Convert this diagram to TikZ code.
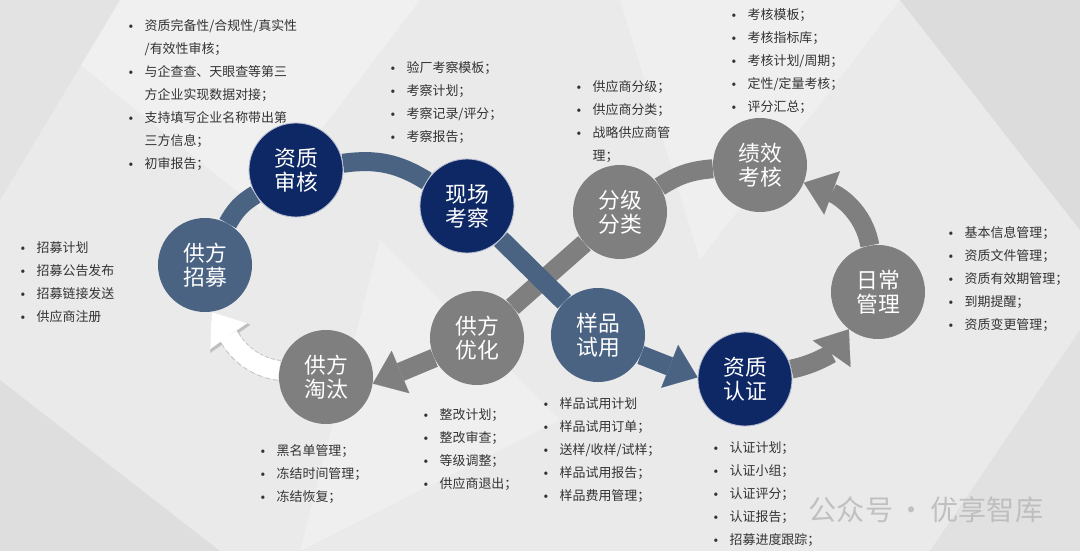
\documentclass[tikz,border=0pt]{standalone}
\usepackage{fontspec}
\setmainfont{Noto Sans CJK SC}
\usepackage{xcolor}
\usetikzlibrary{arrows.meta,backgrounds}
\definecolor{navyblue}{HTML}{0E2866}
\definecolor{slateblue}{HTML}{4A6383}
\definecolor{midgray}{HTML}{7F7F7F}
\definecolor{bggray}{HTML}{EAEAEA}
\definecolor{textgray}{HTML}{333333}
\newcommand{\blist}[1]{{\fontsize{9.2pt}{16.4pt}\selectfont\begin{tabular}[t]{@{}l@{\hspace{8pt}}l@{}}#1\end{tabular}}}
\newcommand{\bu}{\raisebox{1.5pt}{\tiny$\bullet$}}

\begin{document}
\begin{tikzpicture}[x=0.025cm,y=-0.025cm,
  circ/.style={circle,minimum size=2.35cm,inner sep=0pt,align=center,text=white,font=\fontsize{15.5pt}{17pt}\selectfont},
  navycirc/.style={circ,fill=navyblue,draw=white!70!navyblue,line width=0.6pt},
  slatecirc/.style={circ,fill=slateblue},
  graycirc/.style={circ,fill=midgray},
  band/.style={line width=0.475cm},
  bandblue/.style={band,draw=slateblue},
  bandgray/.style={band,draw=midgray},
  bigtip/.style={-{Triangle[length=0.75cm,width=1.15cm,line width=0.1pt]}},
  info/.style={anchor=base west,inner sep=0pt,text=textgray}
]
\useasboundingbox (0,0) rectangle (1080,551);
\node[navycirc] (zs) at (296,170) {资质\\审核};
\node[navycirc] (xc) at (467,206) {现场\\考察};
\node[slatecirc] (zm) at (205,265) {供方\\招募};
\node[graycirc] (tt) at (326,377) {供方\\淘汰};
\node[graycirc] (yh) at (477,338) {供方\\优化};
\node[graycirc] (fj) at (620,212) {分级\\分类};
\node[graycirc] (jx) at (760,165) {绩效\\考核};
\node[graycirc] (rc) at (878,292) {日常\\管理};
\node[slatecirc] (yp) at (598,335) {样品\\试用};
\node[navycirc] (rz) at (745,379) {资质\\认证};

\begin{scope}[on background layer]
\fill[bggray] (0,0) rectangle (1080,551);
\fill[white!30!bggray] (0,0) -- (420,0) -- (260,210) -- cycle;
\fill[white!25!bggray] (620,0) -- (900,0) -- (700,260) -- cycle;
\fill[black!6!bggray] (900,0) -- (1080,0) -- (1080,230) -- cycle;
\fill[black!5!bggray] (0,380) -- (220,551) -- (0,551) -- cycle;
\fill[white!25!bggray] (380,240) -- (560,420) -- (300,551) -- cycle;
\fill[black!4!bggray] (1080,330) -- (1080,551) -- (930,551) -- cycle;
\fill[black!3!bggray] (0,0) -- (120,0) -- (0,200) -- cycle;
% outer loop, grey part
\draw[bandgray,bigtip] (rz.12) to[out=12,in=-125] (rc.-128);
\draw[bandgray,bigtip] (rc.100) to[out=100,in=-20] (jx.-22);
\draw[bandgray] (fj) to[bend left=14] (jx);
\draw[bandgray] (fj) -- (yh);
\draw[bandgray,bigtip] (yh.-155) -- (tt.-8);
% blue part on top
\draw[bandblue] (zm) to[bend left=15] (zs);
\draw[bandblue] (zs) to[bend left=20] (xc);
\draw[bandblue] (xc) -- (yp);
\draw[bandblue,bigtip] (yp.-25) -- (rz.178);
% back to recruiting
\draw[line width=14.8pt,draw=gray!50,dash pattern=on 3pt off 2pt,-{Triangle[length=0.82cm,width=1.22cm,line width=0.1pt]}] (tt.172) to[out=172,in=-55] (zm.-82);
\draw[line width=0.475cm,draw=white,-{Triangle[length=0.74cm,width=1.12cm,line width=0.1pt]}] (tt.172) to[out=172,in=-55] (zm.-82);
\end{scope}

\node[info] (zstext) at (128,30.5) {\blist{\bu & 资质完备性/合规性/真实性\\ & /有效性审核；\\ \bu & 与企查查、天眼查等第三\\ & 方企业实现数据对接；\\ \bu & 支持填写企业名称带出第\\ & 三方信息；\\ \bu & 初审报告；}};
\node[info] (xctext) at (390,72.5) {\blist{\bu & 验厂考察模板；\\ \bu & 考察计划；\\ \bu & 考察记录/评分；\\ \bu & 考察报告；}};
\node[info] (fjtext) at (576,91.5) {\blist{\bu & 供应商分级；\\ \bu & 供应商分类；\\ \bu & 战略供应商管\\ & 理；}};
\node[info] (jxtext) at (731,19.5) {\blist{\bu & 考核模板；\\ \bu & 考核指标库；\\ \bu & 考核计划/周期；\\ \bu & 定性/定量考核；\\ \bu & 评分汇总；}};
\node[info] (rctext) at (948,237.5) {\blist{\bu & 基本信息管理；\\ \bu & 资质文件管理；\\ \bu & 资质有效期管理；\\ \bu & 到期提醒；\\ \bu & 资质变更管理；}};
\node[info] (zmtext) at (20,252.5) {\blist{\bu & 招募计划\\ \bu & 招募公告发布\\ \bu & 招募链接发送\\ \bu & 供应商注册}};
\node[info] (tttext) at (260,455.5) {\blist{\bu & 黑名单管理；\\ \bu & 冻结时间管理；\\ \bu & 冻结恢复；}};
\node[info] (yhtext) at (423,419.5) {\blist{\bu & 整改计划；\\ \bu & 整改审查；\\ \bu & 等级调整；\\ \bu & 供应商退出；}};
\node[info] (yptext) at (543,408.5) {\blist{\bu & 样品试用计划\\ \bu & 样品试用订单；\\ \bu & 送样/收样/试样；\\ \bu & 样品试用报告；\\ \bu & 样品费用管理；}};
\node[info] (rztext) at (713,452.5) {\blist{\bu & 认证计划；\\ \bu & 认证小组；\\ \bu & 认证评分；\\ \bu & 认证报告；\\ \bu & 招募进度跟踪；}};
\node[text=gray!55,opacity=0.85,font=\fontsize{20pt}{20pt}\selectfont] (wm) at (926,510) {公众号\,·\,优享智库};
\end{tikzpicture}
\end{document}
